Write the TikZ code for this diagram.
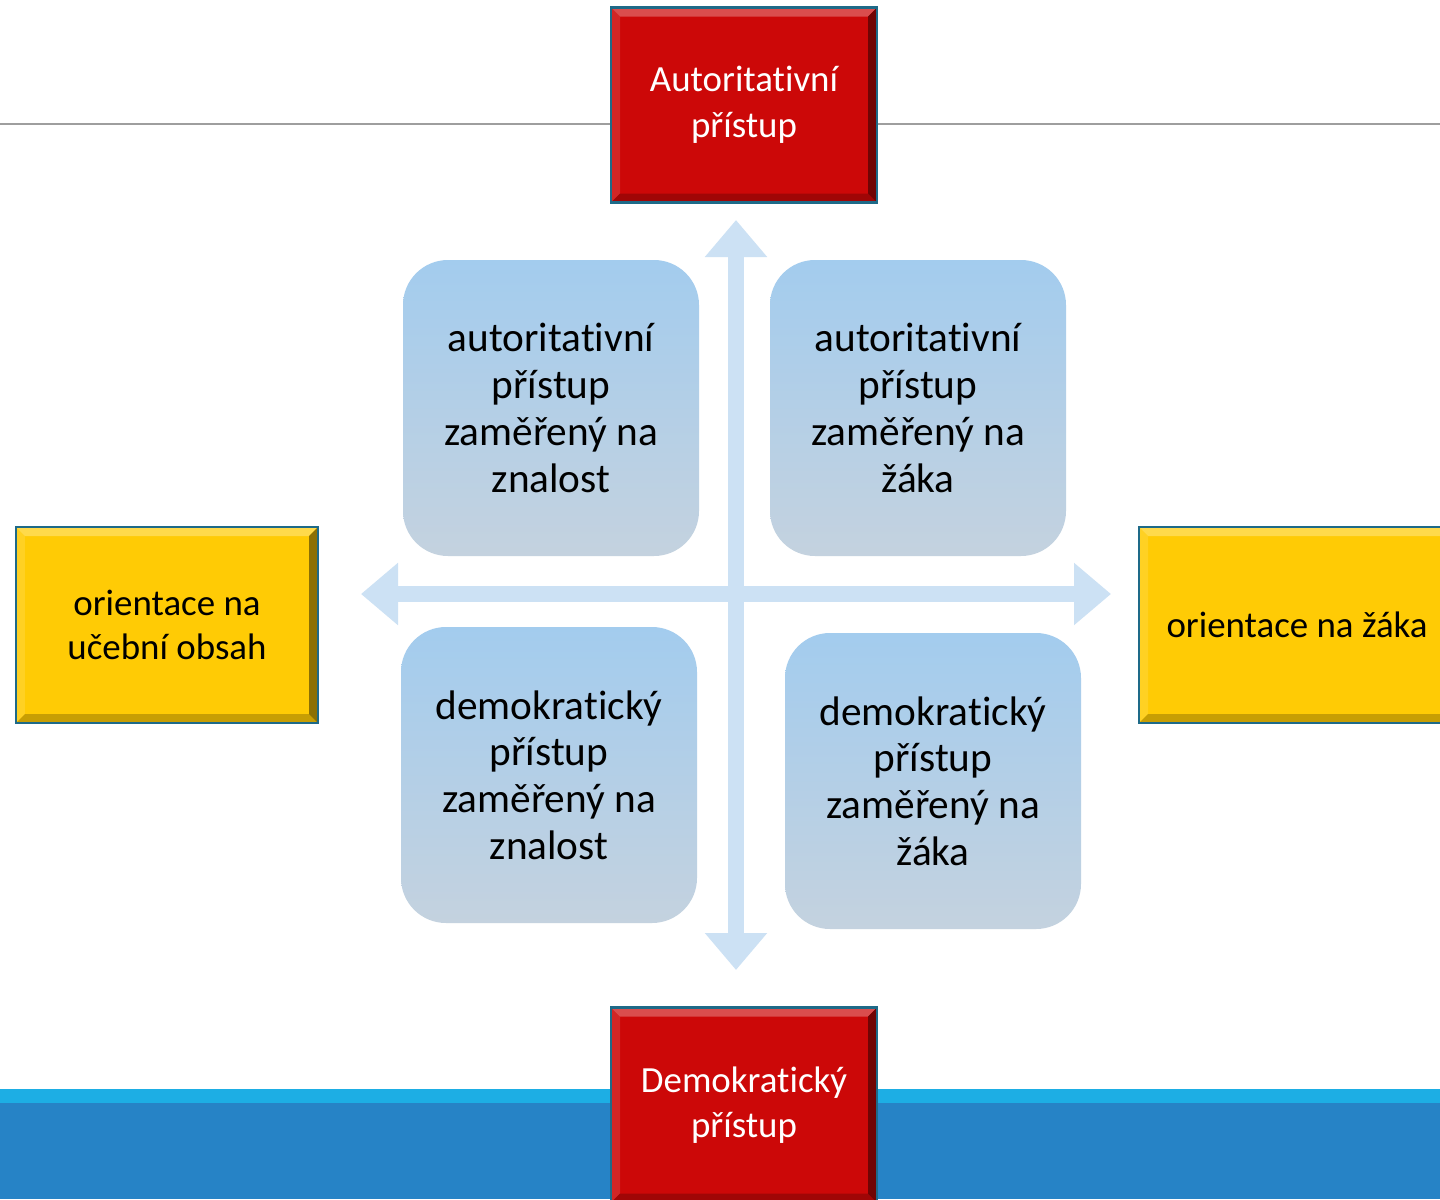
\documentclass[tikz,border=0pt]{standalone}
\usepackage{fontspec}
\setmainfont[Ligatures=NoCommon]{Carlito}
\usepackage{tikz}
\usetikzlibrary{arrows.meta}
\usetikzlibrary{shadings}
\definecolor{boxred}{HTML}{CC0808}
\definecolor{boxyel}{HTML}{FFCB05}
\definecolor{rim}{HTML}{1E6A88}
\definecolor{quadtop}{HTML}{A3CCEE}
\definecolor{quadbot}{HTML}{C4D2DF}
\definecolor{axis}{HTML}{CCE1F4}
\definecolor{bandhi}{HTML}{1DAEE4}
\definecolor{bandlo}{HTML}{2683C6}
\newcommand{\bevelpic}[1]{%
  \coordinate (bnw) at (path picture bounding box.north west);
  \coordinate (bne) at (path picture bounding box.north east);
  \coordinate (bsw) at (path picture bounding box.south west);
  \coordinate (bse) at (path picture bounding box.south east);
  \fill[#1!88!white] (bnw) -- (bsw) -- ([shift={(0.18cm,0.18cm)}]bsw) -- ([shift={(0.18cm,-0.18cm)}]bnw) -- cycle;
  \fill[#1!72!white] (bnw) -- (bne) -- ([shift={(-0.18cm,-0.18cm)}]bne) -- ([shift={(0.18cm,-0.18cm)}]bnw) -- cycle;
  \fill[#1!78!black] (bsw) -- (bse) -- ([shift={(-0.18cm,0.18cm)}]bse) -- ([shift={(0.18cm,0.18cm)}]bsw) -- cycle;
  \fill[#1!55!black] (bne) -- (bse) -- ([shift={(-0.18cm,0.18cm)}]bse) -- ([shift={(-0.18cm,-0.18cm)}]bne) -- cycle;
}
\tikzstyle{redbox}=[rectangle, draw=rim, line width=1.3pt, fill=boxred, text=white, minimum width=5.32cm, minimum height=3.9cm, align=center, font=\fontsize{21}{26}\selectfont, path picture={\bevelpic{boxred}}]
\tikzstyle{yelbox}=[rectangle, draw=rim, line width=1.3pt, fill=boxyel, text=black, minimum width=6.04cm, minimum height=3.92cm, align=center, font=\fontsize{21}{25}\selectfont, path picture={\bevelpic{boxyel}}]
\tikzstyle{quad}=[rectangle, rounded corners=0.9cm, top color=quadtop, bottom color=quadbot, minimum width=5.92cm, minimum height=5.92cm, align=center, font=\fontsize{23.5}{26.6}\selectfont]
\tikzstyle{axisarrow}=[draw=axis, line width=0.32cm, {Triangle[width=1.2cm,length=0.74cm]}-{Triangle[width=1.2cm,length=0.74cm]}]
\tikzstyle{rule}=[draw=black!38, line width=0.9pt]

\begin{document}
\begin{tikzpicture}
	\clip (0,0) rectangle (28.8,-23.98);
	\fill[white] (0,0) rectangle (28.8,-23.98);
	% background rule and bottom band
	\coordinate (rl) at (0,-2.48);
	\coordinate (rr) at (28.8,-2.48);
	\draw[rule] (rl) -- (rr);
	\fill[bandhi] (0,-21.78) rectangle (28.8,-22.08);
	\fill[bandlo] (0,-22.06) rectangle (28.8,-23.98);
	% axes
	\coordinate (up) at (14.72,-4.40);
	\coordinate (down) at (14.72,-19.40);
	\coordinate (lt) at (7.22,-11.88);
	\coordinate (rt) at (22.22,-11.88);
	\draw[axisarrow] (down) -- (up);
	\draw[axisarrow] (lt) -- (rt);
	% quadrants
	\draw (11.02,-8.16) node[quad] (aknow) {autoritativní\\přístup\\zaměřený na\\znalost};
	\draw (18.36,-8.16) node[quad] (apupil) {autoritativní\\přístup\\zaměřený na\\žáka};
	\draw (10.98,-15.50) node[quad] (dknow) {demokratický\\přístup\\zaměřený na\\znalost};
	\draw (18.66,-15.62) node[quad] (dpupil) {demokratický\\přístup\\zaměřený na\\žáka};
	% poles
	\draw (14.88,-2.10) node[redbox] (auth) {Autoritativní\\přístup};
	\draw (14.88,-22.10) node[redbox] (demo) {Demokratický\\přístup};
	\draw (3.34,-12.50) node[yelbox] (content) {orientace na\\učební obsah};
	\draw (25.94,-12.50) node[yelbox, minimum width=6.32cm] (pupil) {orientace na žáka};
\end{tikzpicture}
\end{document}
